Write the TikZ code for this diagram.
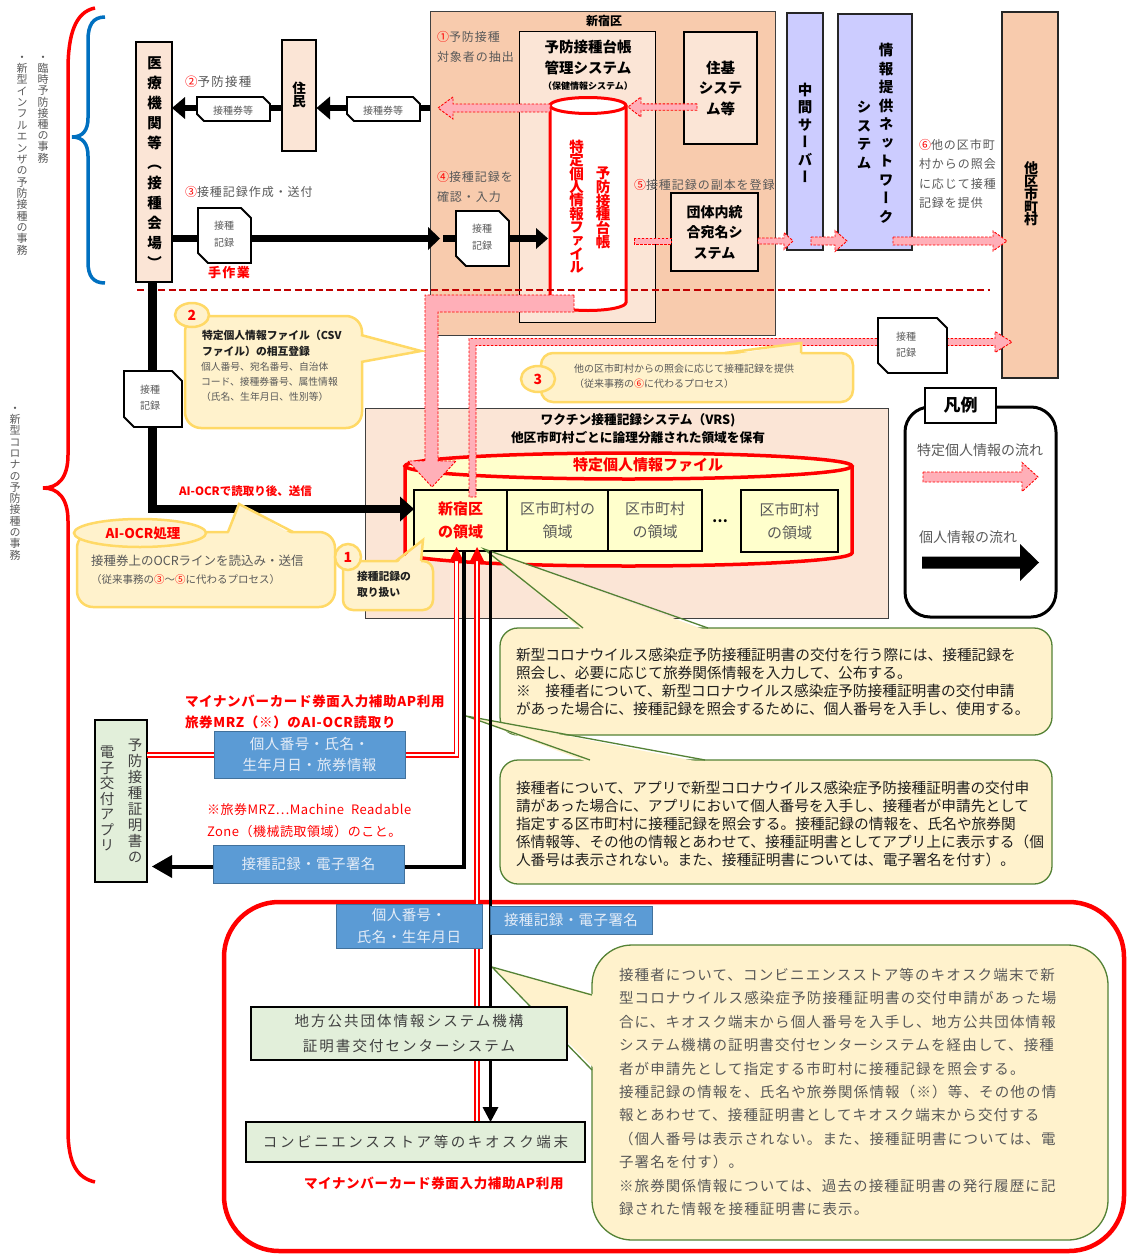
\documentclass[tikz,border=0pt]{standalone}
\usepackage{fontspec}
\setmainfont{Noto Sans CJK JP}
\newfontfamily\vfont{Noto Sans CJK JP}[RawFeature=+vert]
\usetikzlibrary{calc}
\definecolor{peach}{HTML}{F8CBAD}
\definecolor{peachl}{HTML}{FBE5D6}
\definecolor{lav}{HTML}{CCCCFF}
\definecolor{bubf}{HTML}{FFF2CC}
\definecolor{bubd}{HTML}{FFD966}
\definecolor{grn}{HTML}{548235}
\definecolor{bluef}{HTML}{5B9BD5}
\definecolor{blued}{HTML}{41719C}
\definecolor{bluet}{HTML}{E4ECF7}
\definecolor{greenf}{HTML}{E2EFDA}
\definecolor{drumf}{HTML}{FFFFCC}
\definecolor{txtg}{HTML}{595959}
\definecolor{txtd}{HTML}{404040}
\definecolor{txtk}{HTML}{1F1F1F}
\definecolor{darkred}{HTML}{C00000}
\definecolor{pinkf}{HTML}{FFAFB8}
\definecolor{bluebr}{HTML}{0070C0}
\definecolor{dgray}{HTML}{404040}
\newcommand\fss[2]{\fontsize{#1pt}{#2pt}\selectfont}
\newcommand\ls[1]{\addfontfeature{LetterSpace=#1}}
\makeatletter
\newcommand\vt[2]{\vbox{\baselineskip=#1pt\lineskiplimit=-\maxdimen\lineskip=0pt\@tfor\vt@c:=#2\do{\hbox to 1em{\hss\vrule height .88em depth .12em width 0pt\vt@c\hss}}}}
\makeatother
\newcommand\bx[7][]{\node[anchor=north west, minimum width={#5pt-#3pt}, minimum height={#6pt-#4pt}, #1] (#2) at (#3,#4) {#7};}
\newcommand\harr[7][]{\pgfmathsetmacro\myhb{#3+(#2-#3)/abs(#2-#3)*#7}\draw[pa,#1] (#2,#4-#5) -- (\myhb,#4-#5) -- (\myhb,#4-#6) -- (#3,#4) -- (\myhb,#4+#6) -- (\myhb,#4+#5) -- (#2,#4+#5) -- cycle;}
\newcommand\docshape[5]{\draw[fill=white, line width=1.8pt] (#1,#2) -- ({#3-#5},#2) -- (#3,{#2+#5}) -- (#3,#4) -- ({#1+#5},#4) -- (#1,{#4-#5}) -- cycle;}
\begin{document}
\begin{tikzpicture}[x=1pt,y=-1pt,
  every node/.style={inner sep=0pt,outer sep=0pt},
  lw/.style={anchor=west, align=left},
  pa/.style={draw=red, line width=0.9pt, dash pattern=on 2.5pt off 1.5pt, fill=pinkf},
  bub/.style={fill=bubf, draw=bubd, line width=2.5pt},
  gbub/.style={fill=bubf, draw=grn, line width=1.3pt},
  bluebox/.style={fill=bluef, draw=blued, line width=1pt, text=bluet, align=center},
  gbox/.style={fill=greenf, draw=black, line width=1.2pt, text=txtd, align=center},
  dbl/.style={draw=red, double=white, double distance=2.5pt, line width=1.3pt},
  regbox/.style={draw, line width=2.5pt, fill=drumf, align=center},
  dtext/.style={text=txtg, font=\fss{10}{17}, align=center}]
\fill[white] (0,0) rectangle (1127,1255);
\useasboundingbox (0,0) rectangle (1127,1255);

% ---------- left braces and vertical labels
\draw[red, line width=3.5pt] (95,8) .. controls (75,12) and (68,35) .. (68,70) -- (68,455) .. controls (68,478) and (58,488) .. (43,488) .. controls (58,488) and (68,498) .. (68,521) -- (68,1130) .. controls (68,1165) and (78,1178) .. (95,1182);
\draw[bluebr, line width=3.5pt] (105,17) .. controls (93,17) and (88,25) .. (88,40) -- (88,118) .. controls (88,130) and (83,137) .. (72,137) .. controls (83,137) and (88,144) .. (88,156) -- (88,262) .. controls (88,276) and (93,283) .. (105,283);
\node[text=txtg, font=\vfont\fss{11}{11}] (v1) at (43,107.5) {\vt{11.2}{・臨時予防接種の事務}};
\node[text=txtg, font=\vfont\fss{11}{11}] (v2) at (22,153.5) {\vt{11.35}{・新型インフルエンザの予防接種の事務}};
\node[text=txtg, font=\vfont\fss{11}{11}] (v3) at (15,481.5) {\vt{11.3}{・新型コロナの予防接種の事務}};

% ---------- Shinjuku block
\bx[draw=dgray, line width=1pt, fill=peach]{shinjuku}{430}{12}{775}{335}{}
\node[font=\bfseries\fss{12}{12}] (shjt) at (604,21) {新宿区};
\node[lw, text=txtg, font=\fss{12}{20}\ls{8}] (t1) at (437,47) {{\color{red}①}予防接種\\対象者の抽出};
\bx[draw, line width=1pt, fill=peachl]{daicho}{519}{32}{655}{322}{}
\node[font=\bfseries\fss{14.5}{21.5}, align=center] (daichot) at (588,57.5) {予防接種台帳\\管理システム};
\node[font=\bfseries\fss{9}{9}] (hoken) at (588,86) {（保健情報システム）};
\bx[draw, line width=1.2pt, fill=peachl]{juki}{684}{32}{757}{144}{}
\node[font=\bfseries\fss{14.5}{20.5}, align=center] (jukit) at (720.5,88) {住基\\システ\\ム等};
\bx[draw, line width=1.2pt, fill=peachl]{dantai}{671}{193}{758}{271}{}
\node[font=\bfseries\fss{14}{20.5}, align=center] (dantait) at (714.5,232.5) {団体内統\\合宛名シ\\ステム};
\node[lw, text=txtg, font=\fss{12}{20}\ls{8}] (t4) at (437,186.5) {{\color{red}④}接種記録を\\確認・入力};
\node[lw, text=txtg, font=\fss{12}{12}\ls{8}] (t5) at (634,185) {{\color{red}⑤}接種記録の副本を登録};

% cylinder
\fill[white] (550,105.5) rectangle (626,302.5);
\fill[white] (588,302.5) ellipse[x radius=38pt, y radius=8pt];
\draw[red, line width=3pt] (550,105.5) -- (550,302.5) arc[start angle=180, end angle=360, x radius=38pt, y radius=8pt] -- (626,105.5);
\draw[red, line width=3pt, fill=white] (588,105.5) ellipse[x radius=38pt, y radius=8pt];
\node[text=red, font=\vfont\bfseries\fss{14.5}{14.5}] (cyl1) at (576.5,207) {\vt{13.4}{特定個人情報ファイル}};
\node[text=red, font=\vfont\bfseries\fss{14.5}{14.5}] (cyl2) at (603,207.5) {\vt{13.8}{予防接種台帳}};

% ---------- servers and other municipalities
\bx[draw=black!85, line width=1.3pt, fill=lav]{chukan}{787}{13}{823}{250}{}
\node[font=\vfont\bfseries\fss{14.5}{14.5}] (chukant) at (805,133.5) {\vt{17.4}{中間サーバー}};
\bx[draw=black!85, line width=1.3pt, fill=lav]{joho}{838}{14}{912}{250}{}
\node[font=\vfont\bfseries\fss{14.5}{14.5}] (joho1) at (886,133.5) {\vt{18.5}{情報提供ネットワーク}};
\node[font=\vfont\bfseries\fss{14.5}{14.5}] (joho2) at (864,135) {\vt{18.7}{システム}};
\node[lw, text=txtg, font=\fss{12}{19.3}\ls{8}] (t6) at (919,174) {{\color{red}⑥}他の区市町\\村からの照会\\に応じて接種\\記録を提供};
\bx[draw=black!85, line width=1.3pt, fill=peach]{taku}{1002}{12}{1058}{378}{}
\node[font=\vfont\bfseries\fss{14}{14}] (takut) at (1031,194) {\vt{12.8}{他区市町村}};

% dark red boundary
\draw[darkred, line width=1.6pt, dash pattern=on 7pt off 3.5pt] (137,290) -- (990,290);

% ---------- upper black flows
\draw[line width=6.5pt] (shinjuku.west |- 0,108) -- (329,108);
\fill (330,96.5) -- (316.5,108) -- (330,119.5) -- cycle;
\draw[line width=6.5pt] (299,108) -- (184,108);
\fill (185,97) -- (172,108) -- (185,119) -- cycle;
\docshape{197}{97}{270}{121}{7}
\node[text=txtg, font=\fss{10}{10}] (d1) at (233,111) {接種券等};
\docshape{347}{97}{420}{121}{7}
\node[text=txtg, font=\fss{10}{10}] (d2) at (383,111) {接種券等};
\node[lw, text=txtg, font=\fss{12.5}{12.5}\ls{10}] (t2) at (185,82) {{\color{red}②}予防接種};
\node[lw, text=txtg, font=\fss{12}{12}\ls{8}] (t3) at (185,192) {{\color{red}③}接種記録作成・送付};

\draw[line width=7pt] (172,238.5) -- (428,238.5);
\fill (428,227) -- (440,238.5) -- (428,250) -- cycle;
\docshape{198}{208}{251}{263}{10}
\node[dtext] (d3) at (224,234.5) {接種\\記録};
\node[text=red, font=\bfseries\fss{13}{13}\ls{10}] (tesagyo) at (229,273) {手作業};
\draw[line width=7pt] (443,238.5) -- (537,238.5);
\fill (536,228) -- (548,238.5) -- (536,249) -- cycle;
\docshape{456}{211}{509}{266}{10}
\node[dtext] (d4) at (482,237.5) {接種\\記録};

% residents and medical institution
\bx[draw, line width=1.3pt, fill=peachl]{jumin}{282}{40}{316}{151}{}
\node[font=\vfont\bfseries\fss{13.5}{13.5}] (jumint) at (299,94.5) {\vt{13}{住民}};
\bx[draw, line width=1.3pt, fill=peachl]{iryo}{136}{42}{172}{282}{}
\node[font=\vfont\bfseries\fss{14.5}{14.5}] (iryot) at (154.5,163) {\vt{20}{医療機関等（接種会場）}};

% ---------- pink flows (specific personal information)
\harr{697}{628}{107}{3.2}{10}{13}
\harr{550}{438}{108}{4}{11}{15}
\draw[pa] (634,238) rectangle (671,244);
\harr{758}{793}{241}{3}{8.5}{9}
\harr{811}{847}{241}{4}{10.5}{12}
\harr{893}{1007}{241}{4}{10}{14}

% ---------- VRS
\bx[draw=dgray, line width=1pt, fill=peachl]{vrs}{365}{408}{888}{618}{}
\node[font=\bfseries\fss{12.7}{12.7}] (vrs1) at (638,420) {ワクチン接種記録システム（VRS)};
\node[font=\bfseries\fss{12.7}{12.7}] (vrs2) at (638,438) {他区市町村ごとに論理分離された領域を保有};
\fill[drumf] (405,466) rectangle (852,553);
\fill[drumf] (628.5,553) ellipse[x radius=223.5pt, y radius=13pt];
\draw[red, line width=3.5pt] (405,466) -- (405,553) arc[start angle=180, end angle=360, x radius=223.5pt, y radius=13pt] -- (852,466);
\draw[red, line width=3.5pt, fill=drumf] (628.5,466) ellipse[x radius=223.5pt, y radius=13pt];
\node[text=red, font=\bfseries\fss{15}{15}] (drumt) at (648,465) {特定個人情報ファイル};
\bx[regbox, text=red, font=\bfseries\fss{15}{23}]{r1}{414}{490}{507}{551}{新宿区\\の領域}
\bx[regbox, text=txtg, font=\fss{15}{23}]{r2}{507}{490}{608}{551}{区市町村の\\領域}
\bx[regbox, text=txtg, font=\fss{15}{23}]{r3}{608}{490}{702}{551}{区市町村\\の領域}
\node[font=\bfseries\fss{14}{14}] (dots) at (720,521) {…};
\bx[regbox, text=txtg, font=\fss{15}{23}]{r4}{741}{490}{838}{552}{区市町村\\の領域}

% AI-OCR flow from the medical institution to the Shinjuku area
\draw[line width=8.5pt] (iryo.south -| 152.5,0) -- (152.5,509) -- (401,509);
\fill (400,496.5) -- (r1.west |- 0,509) -- (400,521.5) -- cycle;
\docshape{124}{371}{182}{427}{10}
\node[dtext, font=\fss{10}{16}] (d5) at (150,398) {接種\\記録};
\node[lw, text=red, font=\bfseries\fss{11.5}{11.5}] (aiocr) at (179,491) {AI-OCRで読取り後、送信};

% pink L arrows
\draw[pa] (574,295) -- (425,295) -- (425,461) -- (408,461) -- (432,487) -- (456,461) -- (438,461) -- (438,312) -- (574,312) -- cycle;
\draw[pa] (469,497) -- (469,338.5) -- (995,338.5) -- (995,331.5) -- (1012,342) -- (995,352.5) -- (995,345.5) -- (476,345.5) -- (476,497) -- cycle;
\docshape{878}{318}{947}{373}{10}
\node[dtext, font=\fss{10}{16}] (d6) at (906,345) {接種\\記録};

% ---------- yellow bubbles
\draw[bub, rounded corners=16pt] (185,316) rectangle (362,428);
\fill[bubf] (358,335) -- (421,351) -- (358,362) -- cycle;
\draw[bubd, line width=2.5pt] (361,335) -- (421,351) -- (361,362);
\draw[bub] (192,315) ellipse[x radius=17pt, y radius=12pt];
\node[text=red, font=\bfseries\fss{14}{14}] (n2) at (192,315) {2};
\node[lw, text=txtk, font=\bfseries\fss{10.8}{16}] (b2a) at (202,343) {特定個人情報ファイル（CSV\\ファイル）の相互登録};
\node[lw, text=txtg, font=\fss{9.8}{14.8}] (b2b) at (201,382) {個人番号、宛名番号、自治体\\コード、接種券番号、属性情報\\（氏名、生年月日、性別等）};

\draw[bub, rounded corners=12pt] (541,353) rectangle (853,402);
\fill[bubf] (725,356) -- (801,343) -- (801,356) -- cycle;
\draw[bubd, line width=2.5pt] (725,353) -- (801,343) -- (801,353);
\draw[bub] (538,379) ellipse[x radius=17pt, y radius=13pt];
\node[text=red, font=\bfseries\fss{14}{14}] (n3) at (538,379) {3};
\node[lw, text=txtg, font=\fss{10}{15}] (b3) at (574,376.5) {他の区市町村からの照会に応じて接種記録を提供\\（従来事務の{\color{red}⑥}に代わるプロセス）};

\draw[bub, rounded corners=16pt] (77,532) rectangle (335,607);
\fill[bubf] (228,535) -- (239,504) -- (293,535) -- cycle;
\draw[bubd, line width=2.5pt] (228,532) -- (239,504) -- (293,532);
\draw[bub] (140,533) ellipse[x radius=66pt, y radius=14pt];
\node[text=red, font=\bfseries\fss{13.5}{13.5}] (ocrt) at (143,533) {AI-OCR処理};
\node[lw, text=txtg, font=\fss{12.5}{12.5}] (ocr1) at (91,561) {接種券上のOCRラインを読込み・送信};
\node[lw, text=txtg, font=\fss{10.5}{10.5}] (ocr2) at (91,580) {（従来事務の{\color{red}③}～{\color{red}⑤}に代わるプロセス）};

\draw[bub, rounded corners=10pt] (343,561) rectangle (433,610);
\fill[bubf] (396,564) -- (423,540) -- (421,564) -- cycle;
\draw[bubd, line width=2.5pt] (396,561) -- (423,540) -- (421,561);
\draw[bub] (348,557) ellipse[x radius=13pt, y radius=13pt];
\node[text=red, font=\bfseries\fss{14}{14}] (n1) at (348,557) {1};
\node[lw, text=txtk, font=\bfseries\fss{10.8}{16}] (b1t) at (357,584) {接種記録の\\取り扱い};

% ---------- legend
\draw[line width=3pt, rounded corners=25pt, fill=white] (905,407) rectangle (1056,617);
\bx[draw, line width=2.5pt, fill=white, font=\bfseries\fss{17}{17}]{hanrei}{925}{388}{996}{423}{凡例}
\node[lw, text=txtg, font=\fss{14}{14}] (lg1) at (917,450) {特定個人情報の流れ};
\harr{923}{1038}{477}{5}{14.5}{16}
\node[lw, text=txtg, font=\fss{14}{14}] (lg2) at (919,537) {個人情報の流れ};
\fill (922,556.5) -- (1020,556.5) -- (1020,544) -- (1039,562.5) -- (1020,581) -- (1020,568.5) -- (922,568.5) -- cycle;

% ---------- big red frame and green bubbles
\draw[red, line width=4.5pt, rounded corners=55pt] (224,902) rectangle (1124,1251);

\draw[gbub, rounded corners=18pt] (500,628) rectangle (1052,735);
\fill[bubf] (583,631) -- (484,549) -- (708,631) -- cycle;
\draw[grn, line width=1.3pt] (583,628) -- (484,549) -- (708,628);
\node[lw, text=txtk, font=\fss{14.7}{18}] (atext) at (516,682) {新型コロナウイルス感染症予防接種証明書の交付を行う際には、接種記録を\\照会し、必要に応じて旅券関係情報を入力して、公布する。\\※　接種者について、新型コロナウイルス感染症予防接種証明書の交付申請\\があった場合に、接種記録を照会するために、個人番号を入手し、使用する。};

\draw[gbub, rounded corners=18pt] (500,760) rectangle (1052,884);
\fill[bubf] (590,763) -- (466,716) -- (705,763) -- cycle;
\draw[grn, line width=1.3pt] (590,760) -- (466,716) -- (705,760);
\node[lw, text=txtk, font=\fss{14.7}{18}] (btext) at (516,824) {接種者について、アプリで新型コロナウイルス感染症予防接種証明書の交付申\\請があった場合に、アプリにおいて個人番号を入手し、接種者が申請先として\\指定する区市町村に接種記録を照会する。接種記録の情報を、氏名や旅券関\\係情報等、その他の情報とあわせて、接種証明書としてアプリ上に表示する（個\\人番号は表示されない。また、接種証明書については、電子署名を付す）。};

\draw[gbub, rounded corners=40pt] (592,945) rectangle (1108,1240);
\fill[bubf] (596,995) -- (492,967) -- (596,1070) -- cycle;
\draw[grn, line width=1.3pt] (592,995) -- (492,967) -- (592,1070);
\node[lw, text=txtg, font=\fss{14.5}{23.4}\ls{8}] (ctext) at (619,1092) {接種者について、コンビニエンスストア等のキオスク端末で新\\型コロナウイルス感染症予防接種証明書の交付申請があった場\\合に、キオスク端末から個人番号を入手し、地方公共団体情報\\システム機構の証明書交付センターシステムを経由して、接種\\者が申請先として指定する市町村に接種記録を照会する。\\接種記録の情報を、氏名や旅券関係情報（※）等、その他の情\\報とあわせて、接種証明書としてキオスク端末から交付する\\（個人番号は表示されない。また、接種証明書については、電\\子署名を付す）。\\※旅券関係情報については、過去の接種証明書の発行履歴に記\\録された情報を接種証明書に表示。};

% ---------- lines from the Shinjuku area
\bx[gbox]{app}{95}{720}{147}{882}{}
\draw[dbl] (456.5,561) -- (456.5,755) -- (app.east |- 0,755);
\fill[red] (456.5,547) -- (449.5,561) -- (463.5,561) -- cycle;
\draw[line width=4pt] (463.5,551) -- (463.5,866.5) -- (172,866.5);
\fill (172,855) -- (152,866.5) -- (172,878) -- cycle;
\draw[dbl] (477,561) -- (477,1121);
\fill[red] (477,547) -- (470,561) -- (484,561) -- cycle;
\draw[line width=3pt] (490.5,551) -- (490.5,1108);
\fill (482.5,1107) -- (490.5,1122) -- (498.5,1107) -- cycle;

% ---------- boxes on the lines
\node[text=txtd, font=\vfont\fss{14.5}{14.5}] (app1) at (135,801) {\vt{16}{予防接種証明書の}};
\node[text=txtd, font=\vfont\fss{14.5}{14.5}] (app2) at (107,798.5) {\vt{15.5}{電子交付アプリ}};
\bx[bluebox, font=\fss{14.5}{21}\ls{3}]{bl1}{214}{731}{405}{778}{個人番号・氏名・\\生年月日・旅券情報}
\bx[bluebox, font=\fss{14.5}{14.5}\ls{3}]{bl2}{213}{845}{404}{883}{接種記録・電子署名}
\bx[bluebox, font=\fss{14.5}{22}\ls{3}]{bl3}{336}{904}{482}{948}{個人番号・\\氏名・生年月日}
\bx[bluebox, font=\fss{14.5}{14.5}\ls{3}]{bl4}{490}{906}{652}{934}{接種記録・電子署名}
\bx[gbox, font=\fss{14.5}{24.5}\ls{14}]{jlis}{251}{1007}{567}{1060}{地方公共団体情報システム機構\\証明書交付センターシステム}
\bx[gbox, font=\fss{14.5}{14.5}\ls{18}]{kiosk}{246}{1122}{585}{1162}{コンビニエンスストア等のキオスク端末}

% ---------- red notes
\node[lw, text=red, font=\bfseries\fss{13.5}{13.5}\ls{5}] (r1t) at (185,701) {マイナンバーカード券面入力補助AP利用};
\node[lw, text=red, font=\bfseries\fss{13.5}{13.5}\ls{5}] (r2t) at (185,722) {旅券MRZ（※）のAI-OCR読取り};
\node[lw, text=red, font=\fss{13}{22}\ls{4}] (r3t) at (207,821) {※旅券MRZ…Machine\ \ Readable\\Zone（機械読取領域）のこと。};
\node[lw, text=red, font=\bfseries\fss{13.5}{13.5}\ls{5}] (r4t) at (304,1183) {マイナンバーカード券面入力補助AP利用};
\end{tikzpicture}
\end{document}
